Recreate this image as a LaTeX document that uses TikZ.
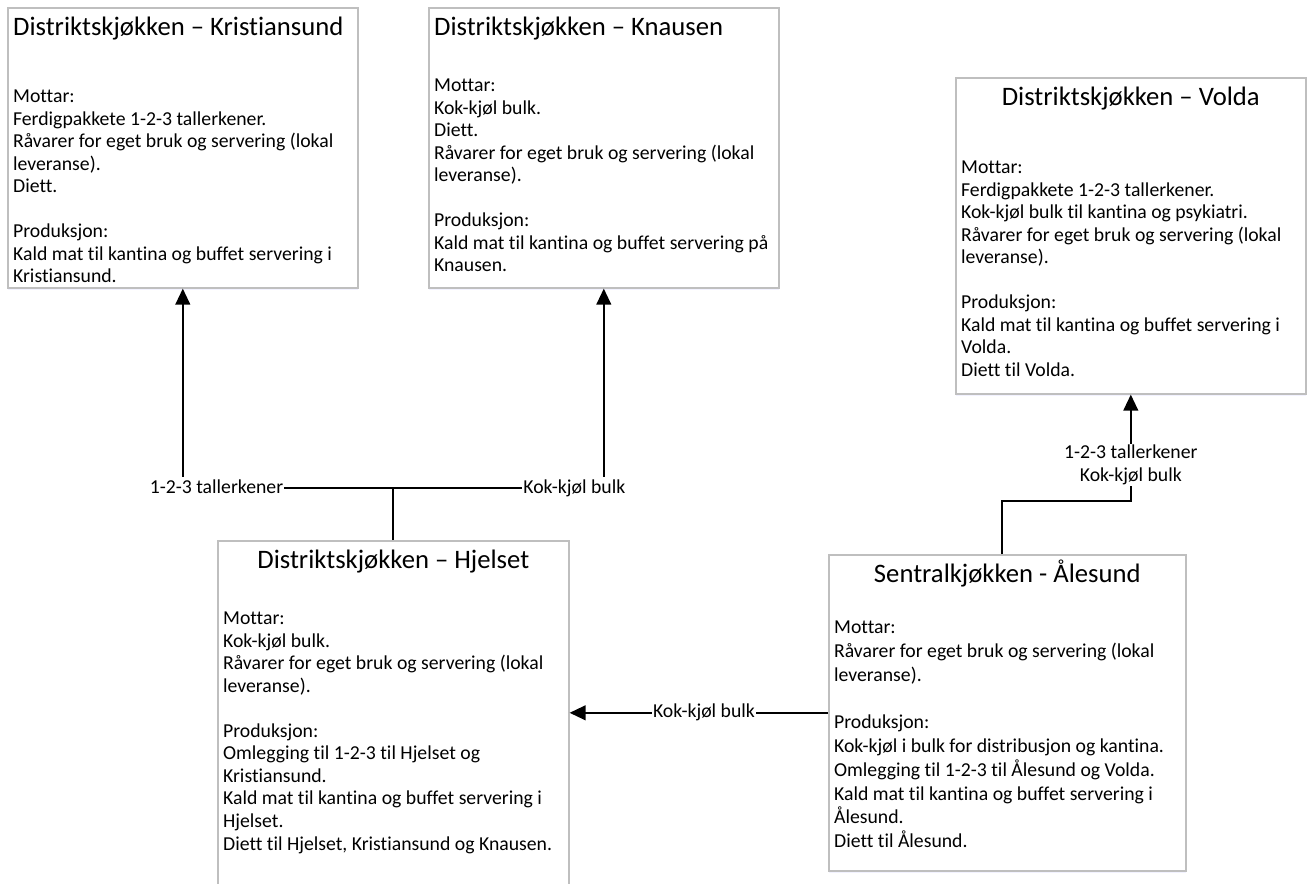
\documentclass[tikz,border=0pt]{standalone}
\usepackage{fontspec}
\setmainfont{Carlito}[Ligatures=NoCommon]
\usetikzlibrary{arrows.meta,shadows}
\newcommand{\bodyfont}{\fontsize{14.8}{16.9}\selectfont}
\newcommand{\titlefont}{\fontsize{20}{22}\selectfont}

\begin{document}
\begin{tikzpicture}[x=0.75pt,y=-0.75pt,every node/.style={font=\bodyfont},
	kitchen/.style={draw=black!25,line width=1.2pt,fill=white,anchor=north west,align=flush left,inner xsep=4pt,inner ysep=5pt,text height=15.5pt,
		drop shadow={shadow xshift=0pt,shadow yshift=-2pt,opacity=0.2,fill=blue!25}},
	tags/.style={fill=white,inner sep=1pt},
	tag/.style={tags,text height=11pt,text depth=3.4pt},
	link/.style={line width=1.5pt},
	flow/.style={link,-{Triangle[length=12pt,width=11pt]}}]
	\path[use as bounding box,fill=white] (0,0) rectangle (1309,883);
	\node[kitchen,text width=254.5pt,text depth=184.5pt] (kr) at (7,7) {{\titlefont Distriktskjøkken – Kristiansund}\\[33.7pt]
		Mottar:\\ Ferdigpakkete 1-2-3 tallerkener.\\ Råvarer for eget bruk og servering (lokal\\ leveranse).\\ Diett.\\[16.9pt]
		Produksjon:\\ Kald mat til kantina og buffet servering i\\ Kristiansund.};
	\node[kitchen,text width=254.5pt,text depth=184.5pt] (kn) at (428,7) {{\titlefont Distriktskjøkken – Knausen}\\[25.5pt]
		Mottar:\\ Kok-kjøl bulk.\\ Diett.\\ Råvarer for eget bruk og servering (lokal\\ leveranse).\\[16.9pt]
		Produksjon:\\ Kald mat til kantina og buffet servering på\\ Knausen.};
	\node[kitchen,text width=254.5pt,text depth=211.5pt] (vo) at (955,77) {\makebox[\linewidth]{\titlefont Distriktskjøkken – Volda}\\[34.5pt]
		Mottar:\\ Ferdigpakkete 1-2-3 tallerkener.\\ Kok-kjøl bulk til kantina og psykiatri.\\ Råvarer for eget bruk og servering (lokal\\ leveranse).\\[16.9pt]
		Produksjon:\\ Kald mat til kantina og buffet servering i\\ Volda.\\ Diett til Volda.};
	\node[kitchen,text width=255.25pt,text depth=240pt] (hj) at (217,540) {\makebox[\linewidth]{\titlefont Distriktskjøkken – Hjelset}\\[25.5pt]
		Mottar:\\ Kok-kjøl bulk.\\ Råvarer for eget bruk og servering (lokal\\ leveranse).\\[16.9pt]
		Produksjon:\\ Omlegging til 1-2-3 til Hjelset og\\ Kristiansund.\\ Kald mat til kantina og buffet servering i\\ Hjelset.\\ Diett til Hjelset, Kristiansund og Knausen.};
	\node[kitchen,text width=259.75pt,text depth=211.5pt,font=\fontsize{14.8}{17.8}\selectfont] (al) at (828,554) {\makebox[\linewidth]{\titlefont Sentralkjøkken - Ålesund}\\[21pt]
		Mottar:\\ Råvarer for eget bruk og servering (lokal\\ leveranse).\\[17.8pt]
		Produksjon:\\ Kok-kjøl i bulk for distribusjon og kantina.\\ Omlegging til 1-2-3 til Ålesund og Volda.\\ Kald mat til kantina og buffet servering i\\ Ålesund.\\ Diett til Ålesund.};

	\coordinate (split) at (hj.north |- 0,488);
	\coordinate (up) at ([xshift=-3.75pt]al.north);
	\draw[link] (hj.north) -- (split);
	\draw[flow] (split) -| (kr.south) node[tag,pos=0.42] (t1) {1-2-3 tallerkener};
	\draw[flow] (split) -| (kn.south) node[tag,pos=0.43] (t2) {Kok-kjøl bulk};
	\draw[flow] (al.west) -- (al.west -| hj.east) node[tag,pos=0.48] (t3) {Kok-kjøl bulk};
	\draw[flow] (up) -- ++(0,-53) -| (vo.south) node[tags,pos=0.67,align=center] (t4) {1-2-3 tallerkener\\Kok-kjøl bulk};
\end{tikzpicture}
\end{document}
